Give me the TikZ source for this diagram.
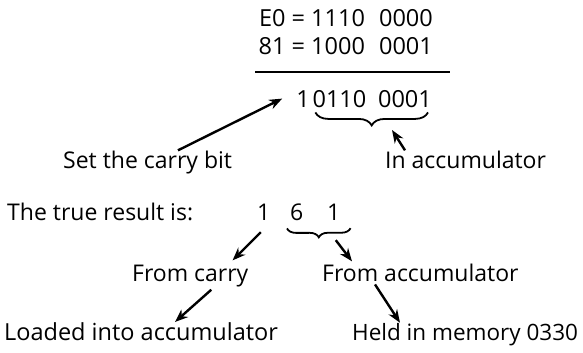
\documentclass[tikz,border=0pt]{standalone}
\usepackage{fontspec}
\setmainfont{Open Sans}
\usepackage{tikz}
\usetikzlibrary{calc, arrows.meta, decorations.pathreplacing}

\begin{document}
\begin{tikzpicture}[x=1pt, y=-1pt,
    lbl/.style={font=\fontsize{23}{26}\selectfont, inner sep=0pt, anchor=base west},
    eq/.style={font=\fontsize{23.5}{28}\selectfont, inner sep=0pt, anchor=base east},
    arr/.style={line width=2.4pt, -{Stealth[length=13pt, width=10pt]}},
    brc/.style={decorate, decoration={brace, mirror, amplitude=#1}, line width=1.8pt},
    brc/.default=12pt]
  \useasboundingbox (0,0) rectangle (583,353);
  \foreach \nm/\lhs/\hi/\lo/\y in {rowa/E0/1110/0000/27, rowb/81/1000/0001/55} {
    \node[eq] (\nm) at (433,\y) {\lhs\ = \hi\hspace{0.6em}\lo};
  }
  \draw[line width=1.6pt] (255,72) -- (450,72);
  \node[eq] (cbit) at (310,107) {1};
  \node[eq] (acc) at (432,107) {0110\hspace{0.5em}0001};
  \draw[brc=13pt] ([shift={(3pt,-5pt)}]acc.south west) -- ([shift={(-4pt,-5pt)}]acc.south east);

  \node[lbl] (setc) at (63,168) {Set the carry bit};
  \node[lbl] (inacc) at (385,168) {In accumulator};
  \draw[arr] ([xshift=115pt]setc.north west) -- ([xshift=-14pt]cbit.west);
  \coordinate (acctip) at (392,130);
  \draw[arr] ([xshift=20pt]inacc.north west) -- (acctip);

  \node[lbl] (truer) at (7,220) {The true result is:};
  \foreach \nm/\d/\x in {dc/1/257, d6/6/290, d1/1/327} {
    \node[lbl] (\nm) at (\x,220) {\d};
  }
  \draw[brc=9pt] ([shift={(-3pt,-8pt)}]d6.south west) -- ([shift={(10pt,-8pt)}]d1.south east);

  \node[lbl] (fromc) at (132,281) {From carry};
  \node[lbl] (fromacc) at (322,281) {From accumulator};
  \node[lbl, font=\fontsize{23.5}{26}\selectfont] (loaded) at (4,340) {Loaded into accumulator};
  \node[lbl, font=\fontsize{22.5}{26}\selectfont] (held) at (352,340) {Held in memory 0330};
  \draw[arr] ([shift={(-3pt,-12pt)}]dc.south) -- ([shift={(-16pt,4pt)}]fromc.north east);
  \draw[arr] ([shift={(2pt,-20pt)}]d1.south) -- ([shift={(30pt,2pt)}]fromacc.north west);
  \draw[arr] ([shift={(21pt,-3pt)}]fromc.south) -- ([xshift=171pt]loaded.north west);
  \draw[arr] ([shift={(53pt,-3pt)}]fromacc.south west) -- ([xshift=48pt]held.north west);
\end{tikzpicture}
\end{document}
